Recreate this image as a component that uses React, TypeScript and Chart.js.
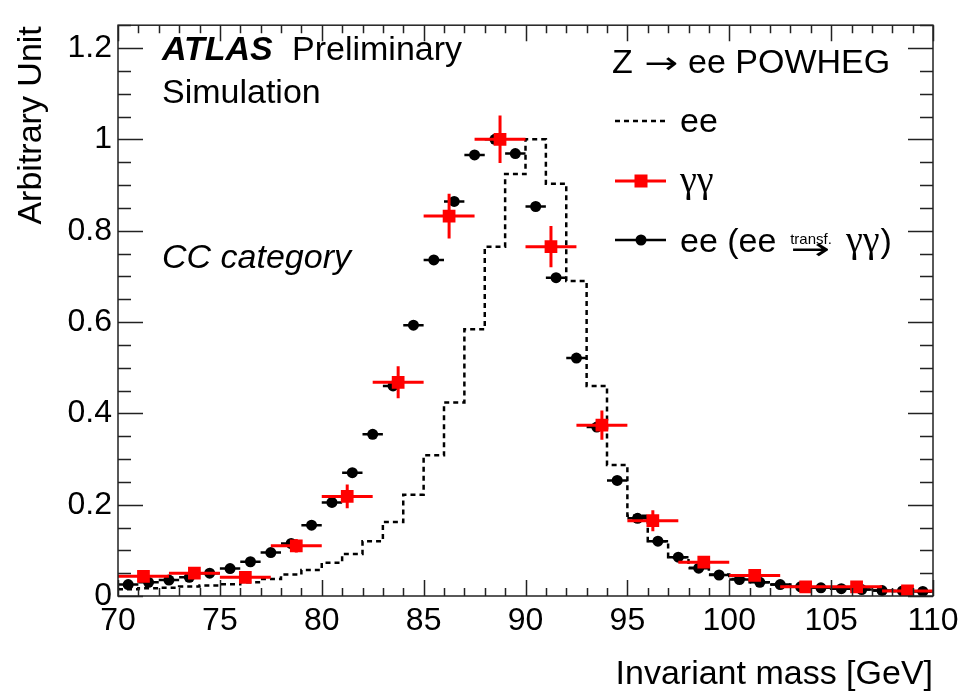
import React, { useEffect, useRef } from 'react';
import { Chart, registerables } from 'chart.js';

Chart.register(...registerables);

const FONT = '"Liberation Sans", Arial, Helvetica, sans-serif';
const SERIF = '"Liberation Serif", "Times New Roman", serif';
const ARROWFONT = '"DejaVu Sans", sans-serif';

// ee (dashed histogram), 1 GeV bins, lower edges
const eeBinLow = [70, 71, 72, 73, 74, 75, 76, 77, 78, 79, 80, 81, 82, 83, 84, 85, 86, 87, 88, 89,
  90, 91, 92, 93, 94, 95, 96, 97, 98, 99, 100, 101, 102, 103, 104, 105, 106, 107, 108, 109];
const eeHistHigh = 110;
const eeHist = [0.015, 0.017, 0.018, 0.021, 0.023, 0.026, 0.030, 0.037, 0.047, 0.057,
  0.073, 0.092, 0.120, 0.162, 0.222, 0.308, 0.424, 0.584, 0.765, 0.924,
  1.000, 0.903, 0.690, 0.460, 0.287, 0.176, 0.120, 0.085, 0.062, 0.047,
  0.037, 0.030, 0.025, 0.021, 0.018, 0.016, 0.014, 0.012, 0.011, 0.010];

// ee (ee -> gamma gamma transformed), 1 GeV bins, centers
const transfX = [70.5, 71.5, 72.5, 73.5, 74.5, 75.5, 76.5, 77.5, 78.5, 79.5, 80.5, 81.5, 82.5, 83.5,
  84.5, 85.5, 86.5, 87.5, 88.5, 89.5, 90.5, 91.5, 92.5, 93.5, 94.5, 95.5, 96.5, 97.5, 98.5, 99.5,
  100.5, 101.5, 102.5, 103.5, 104.5, 105.5, 106.5, 107.5, 108.5, 109.5];
const transfY = [0.025, 0.030, 0.035, 0.041, 0.050, 0.060, 0.075, 0.095, 0.115, 0.155,
  0.205, 0.270, 0.354, 0.460, 0.593, 0.736, 0.864, 0.966, 1.000, 0.969,
  0.853, 0.697, 0.521, 0.370, 0.253, 0.170, 0.120, 0.085, 0.061, 0.046,
  0.036, 0.030, 0.025, 0.020, 0.018, 0.016, 0.014, 0.012, 0.011, 0.010];
const transfXErr = [0.5, 0.5, 0.5, 0.5, 0.5, 0.5, 0.5, 0.5, 0.5, 0.5, 0.5, 0.5, 0.5, 0.5, 0.5, 0.5,
  0.5, 0.5, 0.5, 0.5, 0.5, 0.5, 0.5, 0.5, 0.5, 0.5, 0.5, 0.5, 0.5, 0.5, 0.5, 0.5, 0.5, 0.5, 0.5,
  0.5, 0.5, 0.5, 0.5, 0.5];

// gamma gamma, 2.5 GeV bins, centers
const ggX = [71.25, 73.75, 76.25, 78.75, 81.25, 83.75, 86.25, 88.75, 91.25, 93.75, 96.25, 98.75,
  101.25, 103.75, 106.25, 108.75];
const ggY = [0.043, 0.050, 0.041, 0.110, 0.218, 0.468, 0.832, 1.000, 0.765, 0.374, 0.165, 0.074,
  0.045, 0.020, 0.020, 0.011];
const ggYErr = [0.005, 0.006, 0.006, 0.015, 0.026, 0.035, 0.049, 0.052, 0.045, 0.032, 0.023, 0.010,
  0.008, 0.006, 0.005, 0.004];
const ggXErr = [1.25, 1.25, 1.25, 1.25, 1.25, 1.25, 1.25, 1.25, 1.25, 1.25, 1.25, 1.25, 1.25, 1.25,
  1.25, 1.25];

const xTicks = [70, 75, 80, 85, 90, 95, 100, 105, 110];
const yTicks = [0, 0.2, 0.4, 0.6, 0.8, 1, 1.2];
const yTickLabels = ['0', '0.2', '0.4', '0.6', '0.8', '1', '1.2'];

const errorBars = {
  id: 'errorBars',
  beforeDatasetDraw(chart: any, args: any) {
    const ds = chart.data.datasets[args.index];
    if (!ds.errX && !ds.errY) return;
    const xs = chart.scales.x;
    const ys = chart.scales.y;
    const ctx = chart.ctx;
    const a = chart.chartArea;
    ctx.save();
    ctx.beginPath();
    ctx.rect(a.left, a.top, a.right - a.left, a.bottom - a.top);
    ctx.clip();
    ctx.strokeStyle = ds.errColor;
    ctx.lineWidth = ds.errWidth;
    ds.data.forEach((p: any, i: number) => {
      const px = xs.getPixelForValue(p.x);
      const py = ys.getPixelForValue(p.y);
      ctx.beginPath();
      if (ds.errX) {
        ctx.moveTo(xs.getPixelForValue(p.x - ds.errX[i]), py);
        ctx.lineTo(xs.getPixelForValue(p.x + ds.errX[i]), py);
      }
      if (ds.errY) {
        ctx.moveTo(px, ys.getPixelForValue(p.y - ds.errY[i]));
        ctx.lineTo(px, ys.getPixelForValue(p.y + ds.errY[i]));
      }
      ctx.stroke();
    });
    ctx.restore();
  },
};

function wideArrow(ctx: any, left: number, width: number, baseline: number, size: number) {
  ctx.save();
  ctx.font = `${size}px ${ARROWFONT}`;
  const w = ctx.measureText('\u2192').width;
  ctx.translate(left, baseline);
  ctx.scale(width / w, 1);
  ctx.textAlign = 'left';
  ctx.fillText('\u2192', 0, 0);
  ctx.restore();
}

const frameTicks = {
  id: 'frameTicks',
  afterDraw(chart: any) {
    const ctx = chart.ctx;
    const a = chart.chartArea;
    const xs = chart.scales.x;
    const ys = chart.scales.y;
    ctx.save();
    ctx.strokeStyle = '#222';
    ctx.lineWidth = 1.5;
    ctx.strokeRect(a.left, a.top, a.right - a.left, a.bottom - a.top);
    ctx.beginPath();
    for (let v = 70; v <= 110.001; v += 1) {
      const major = Math.abs(v / 5 - Math.round(v / 5)) < 1e-6;
      const L = major ? 16 : 8;
      const px = Math.round(xs.getPixelForValue(v)) + 0.5;
      ctx.moveTo(px, a.bottom);
      ctx.lineTo(px, a.bottom - L);
      ctx.moveTo(px, a.top);
      ctx.lineTo(px, a.top + L);
    }
    for (let k = 0; k <= 25; k++) {
      const v = k * 0.05;
      const major = k % 4 === 0;
      const L = major ? 25 : 13;
      const py = Math.round(ys.getPixelForValue(v)) + 0.5;
      ctx.moveTo(a.left, py);
      ctx.lineTo(a.left + L, py);
      ctx.moveTo(a.right, py);
      ctx.lineTo(a.right - L, py);
    }
    ctx.stroke();

    ctx.fillStyle = '#000';
    // y axis title
    ctx.save();
    ctx.translate(32, a.top + 1);
    ctx.rotate(-Math.PI / 2);
    ctx.font = `34px ${FONT}`;
    ctx.textAlign = 'right';
    ctx.textBaseline = 'middle';
    ctx.fillText('Arbitrary Unit', 0, 0);
    ctx.restore();

    // annotations
    ctx.textBaseline = 'alphabetic';
    ctx.textAlign = 'left';
    ctx.font = `italic bold 34px ${FONT}`;
    ctx.fillText('ATLAS', 162, 60);
    ctx.font = `34px ${FONT}`;
    ctx.fillText('Preliminary', 292, 60);
    ctx.fillText('Simulation', 162, 103);
    ctx.font = `italic 34px ${FONT}`;
    ctx.fillText('CC category', 162, 268);

    // legend header
    ctx.font = `34px ${FONT}`;
    ctx.fillText('Z', 612, 73);
    wideArrow(ctx, 644, 34, 73, 30);
    ctx.font = `34px ${FONT}`;
    ctx.fillText('ee POWHEG', 688, 73);
    // legend entries
    ctx.fillText('ee', 680, 132);
    ctx.font = `38px ${SERIF}`;
    ctx.fillText('\u03b3\u03b3', 680, 192);
    ctx.font = `34px ${FONT}`;
    ctx.fillText('ee (ee', 680, 252);
    wideArrow(ctx, 790, 40, 259, 30);
    ctx.font = `15px ${FONT}`;
    const tw = ctx.measureText('transf.').width;
    ctx.fillText('transf.', 811 - tw / 2, 244);
    ctx.font = `38px ${SERIF}`;
    ctx.fillText('\u03b3\u03b3', 846, 252);
    const gw = ctx.measureText('\u03b3\u03b3').width;
    ctx.font = `34px ${FONT}`;
    ctx.fillText(')', 846 + gw + 1, 252);

    // legend symbols
    ctx.strokeStyle = '#000';
    ctx.lineWidth = 2.5;
    ctx.setLineDash([5, 4]);
    ctx.beginPath();
    ctx.moveTo(615, 121);
    ctx.lineTo(666, 121);
    ctx.stroke();
    ctx.setLineDash([]);
    ctx.strokeStyle = '#ff0000';
    ctx.lineWidth = 3;
    ctx.beginPath();
    ctx.moveTo(615, 181);
    ctx.lineTo(666, 181);
    ctx.stroke();
    ctx.fillStyle = '#ff0000';
    ctx.fillRect(641 - 6.5, 181 - 6.5, 13, 13);
    ctx.strokeStyle = '#000';
    ctx.lineWidth = 2.5;
    ctx.beginPath();
    ctx.moveTo(615, 240);
    ctx.lineTo(666, 240);
    ctx.stroke();
    ctx.fillStyle = '#000';
    ctx.beginPath();
    ctx.arc(641, 240, 5.5, 0, Math.PI * 2);
    ctx.fill();
    ctx.restore();
  },
};

export default function App() {
  const ref = useRef<HTMLCanvasElement | null>(null);
  useEffect(() => {
    if (!ref.current) return;
    const histData = eeBinLow.map((x, i) => ({ x, y: eeHist[i] }));
    histData.push({ x: eeHistHigh, y: eeHist[eeHist.length - 1] });
    const chart = new Chart(ref.current, {
      type: 'scatter',
      data: {
        datasets: [
          {
            label: 'γγ',
            data: ggX.map((x, i) => ({ x, y: ggY[i] })),
            pointStyle: 'rect',
            pointRadius: 9,
            backgroundColor: '#ff0000',
            borderColor: '#ff0000',
            borderWidth: 0,
            order: 0,
            errX: ggXErr,
            errY: ggYErr,
            errColor: '#ff0000',
            errWidth: 3,
          } as any,
          {
            label: 'ee (ee → γγ)',
            data: transfX.map((x, i) => ({ x, y: transfY[i] })),
            pointStyle: 'circle',
            pointRadius: 5.5,
            backgroundColor: '#000',
            borderColor: '#000',
            borderWidth: 0,
            order: 1,
            errX: transfXErr,
            errColor: '#000',
            errWidth: 2.5,
          } as any,
          {
            type: 'line',
            label: 'ee',
            data: histData,
            stepped: true,
            borderColor: '#000',
            borderWidth: 2.5,
            borderDash: [5, 4],
            pointRadius: 0,
            fill: false,
            showLine: true,
            order: 2,
          } as any,
        ],
      },
      options: {
        animation: false,
        responsive: false,
        devicePixelRatio: 1,
        layout: { padding: { top: 10, right: 46, left: 0, bottom: 0 } },
        plugins: { legend: { display: false }, tooltip: { enabled: false } },
        scales: {
          x: {
            type: 'linear',
            min: 70,
            max: 110,
            grid: { display: false, drawTicks: false },
            border: { display: false },
            afterBuildTicks: (s: any) => {
              s.ticks = xTicks.map((v) => ({ value: v }));
            },
            afterFit: (s: any) => {
              s.height = 99;
            },
            ticks: {
              color: '#000',
              font: { family: FONT, size: 32 },
              padding: 6,
              maxRotation: 0,
              autoSkip: false,
            },
            title: {
              display: true,
              text: 'Invariant mass [GeV]',
              align: 'end',
              color: '#000',
              font: { family: FONT, size: 34 },
              padding: { top: 0, bottom: 0 },
            },
          },
          y: {
            type: 'linear',
            min: 0,
            max: 1.25,
            grid: { display: false, drawTicks: false },
            border: { display: false },
            afterBuildTicks: (s: any) => {
              s.ticks = yTicks.map((v) => ({ value: v }));
            },
            afterFit: (s: any) => {
              s.width = 118;
            },
            ticks: {
              color: '#000',
              font: { family: FONT, size: 32 },
              padding: 6,
              autoSkip: false,
              callback: (v: any) => {
                const i = yTicks.findIndex((t) => Math.abs(t - Number(v)) < 1e-9);
                return i >= 0 ? yTickLabels[i] : '';
              },
            },
          },
        },
      },
      plugins: [errorBars, frameTicks],
    } as any);
    return () => chart.destroy();
  }, []);
  return (
    <div style={{ position: 'fixed', left: 0, top: 0, width: 979, height: 695, background: '#fff' }}>
      <canvas ref={ref} width={979} height={695} style={{ width: 979, height: 695, display: 'block' }} />
    </div>
  );
}
